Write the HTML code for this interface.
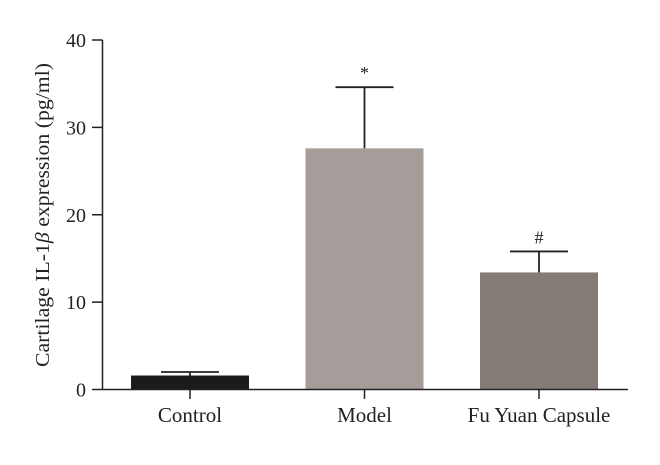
<!DOCTYPE html>
<html><head><meta charset="utf-8"><style>
body{margin:0;background:#fff}
svg text{font-family:"Liberation Serif",serif;fill:#222}
</style></head><body>
<svg width="660" height="460" id="c">
<text transform="translate(49,215) rotate(-90)" text-anchor="middle" font-size="20.5" textLength="304" lengthAdjust="spacingAndGlyphs">Cartilage IL-1<tspan font-style="italic">β</tspan> expression (pg/ml)</text>
</svg>
<script>
const categories=["Control","Model","Fu Yuan Capsule"];
const values=[1.6,27.6,13.4];
const errors=[0.4,7.0,2.4];
const marks=["","*","#"];
const yTicks=[0,10,20,30,40];
const colors=["#1c1a1a","#a69c9a","#857b76"];
const svg=document.getElementById('c');
const NS='http://www.w3.org/2000/svg';
const y0=389.5,y1=40,ax=102.5,axEnd=628;
const y=v=>y0-(v/40)*(y0-y1);
const x=i=>190+i*174.5;
function el(t,a){const e=document.createElementNS(NS,t);for(const k in a)e.setAttribute(k,a[k]);svg.appendChild(e);return e;}
yTicks.forEach(t=>{
 const l=el('line',{x1:92,x2:ax,y1:y(t),y2:y(t),stroke:'#222','stroke-width':1.5});
 
 
 const tx=el('text',{x:86,y:y(t)+7,'text-anchor':'end','font-size':20});
 tx.textContent=t;
 
 
});
categories.forEach((c,i)=>{
 const cx=x(i);
 const b=el('rect',{x:cx-59,y:y(values[i]),width:118,height:y0-y(values[i]),fill:colors[i]});
 
 
 const ev=values[i]+errors[i];
 const e1=el('line',{x1:cx,x2:cx,y1:y(values[i]),y2:y(ev),stroke:'#222','stroke-width':1.8});
 
 
 const e2=el('line',{x1:cx-29,x2:cx+29,y1:y(ev),y2:y(ev),stroke:'#222','stroke-width':1.8});
 
 
 const tk=el('line',{x1:cx,x2:cx,y1:y0,y2:399,stroke:'#222','stroke-width':1.5});
 
 
 const lb=el('text',{x:cx,y:422,'text-anchor':'middle','font-size':21});
 lb.textContent=c;
 
 
 if(marks[i]){
  const m=el('text',{x:cx,y:y(ev)-8,'text-anchor':'middle','font-size':18});
  m.textContent=marks[i];
  
  
 }
});
const ya=el('line',{x1:ax,x2:ax,y1:y1,y2:y0,stroke:'#222','stroke-width':1.5});


const xa=el('line',{x1:ax,x2:axEnd,y1:y0,y2:y0,stroke:'#222','stroke-width':1.5});


</script>
</body></html>
